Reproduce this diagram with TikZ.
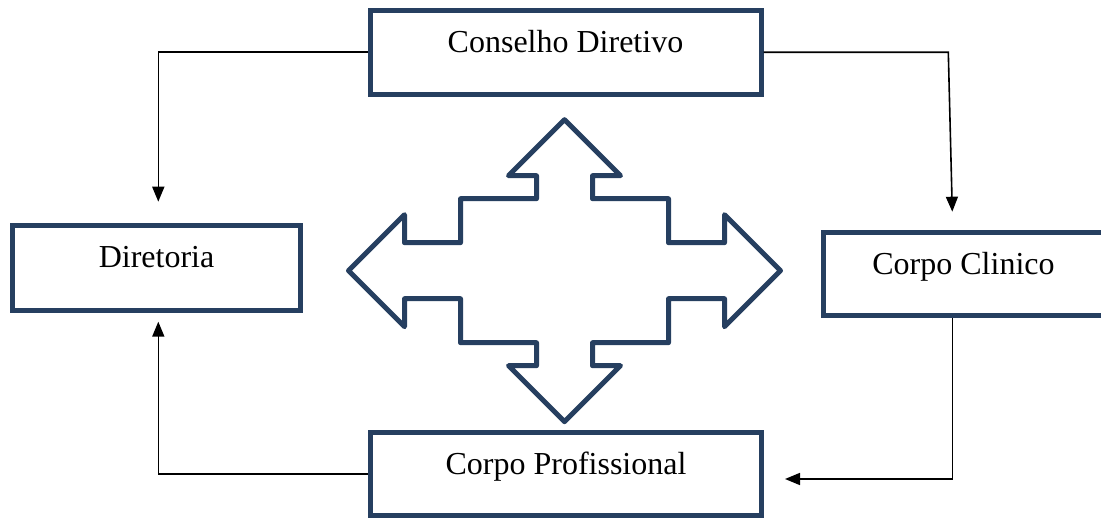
\documentclass[tikz,border=0pt]{standalone}
\usepackage{fontspec}
\setmainfont{Liberation Serif}
\usetikzlibrary{arrows.meta}
\definecolor{frame}{RGB}{38,63,96}
\begin{document}
\begin{tikzpicture}[x=1pt,y=-1pt,
  unit/.style={draw=frame, line width=5pt, rectangle, inner sep=0pt,
    font=\fontsize{32}{38}\selectfont, text height=22pt, text depth=22pt},
  conn/.style={draw=black, line width=1.6pt},
  tip/.style={-{Triangle[length=15pt,width=12pt]}},
  hub/.style={draw=frame, line width=5pt, line join=round, fill=white}]
\useasboundingbox (0,0) rectangle (1101,518);

% organisational units
\node[unit, minimum width=391pt, minimum height=84pt] (cd) at (565.5,53) {Conselho Diretivo};
\node[unit, minimum width=288pt, minimum height=85pt] (dir) at (156.5,267.7) {Diretoria};
\node[unit, minimum width=281pt, minimum height=83pt] (cc) at (963.5,274.3) {Corpo Clinico};
\node[unit, minimum width=391pt, minimum height=83pt] (cp) at (566,474.4) {Corpo Profissional};

% free ends of the connectors
\coordinate (dirTop) at (158.3,201.7);
\coordinate (dirBot) at (158.3,321.7);
\coordinate (ccTop) at (952.3,211.7);
\coordinate (cpRight) at (785,479);
\coordinate (bendR) at (948.3,52.3);

% connectors
\draw[conn, tip] (cd.west |- 0,52.3) -| (dirTop);
\draw[conn, tip] (cd.east |- 0,52.3) -- (bendR) -- (ccTop);
\draw[conn, tip] (cc.south -| ccTop) |- (cpRight);
\draw[conn, tip] (cp.west |- 0,474) -| (dirBot);

% four-way arrow in the middle
\begin{scope}[shift={(564.5,270.7)}]
\draw[hub] (0,-151) -- (56,-95) -- (28,-95) -- (28,-72) -- (104,-72) -- (104,-28)
  -- (160,-28) -- (160,-56) -- (216,0) -- (160,56) -- (160,28) -- (104,28)
  -- (104,72) -- (28,72) -- (28,95) -- (56,95) -- (0,151) -- (-56,95)
  -- (-28,95) -- (-28,72) -- (-104,72) -- (-104,28) -- (-160,28) -- (-160,56)
  -- (-216,0) -- (-160,-56) -- (-160,-28) -- (-104,-28) -- (-104,-72)
  -- (-28,-72) -- (-28,-95) -- (-56,-95) -- cycle;
\end{scope}
\end{tikzpicture}
\end{document}
